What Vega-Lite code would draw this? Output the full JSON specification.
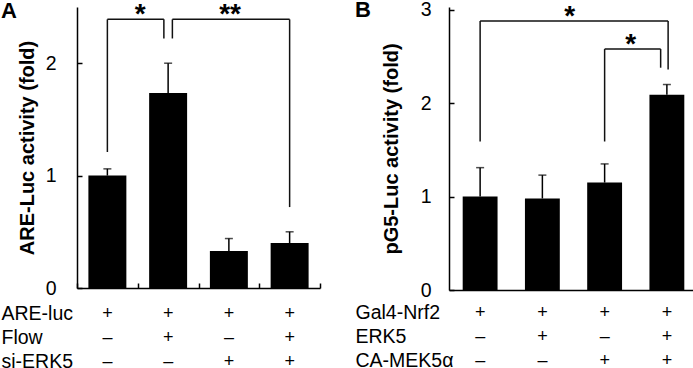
{
  "$schema": "https://vega.github.io/schema/vega-lite/v6.json",
  "padding": {"left": 1, "top": -2, "right": 0, "bottom": 0},
  "background": "white",
  "config": {
    "font": "Liberation Sans",
    "view": {"stroke": null},
    "axis": {"grid": false, "domainColor": "black", "tickColor": "black", "labelColor": "black", "titleColor": "black", "labelFont": "Liberation Sans", "titleFont": "Liberation Sans"}
  },
  "datasets": {
    "barsA": [
      {"cond": "1", "value": 1.0, "hi": 1.06},
      {"cond": "2", "value": 1.735, "hi": 2.0},
      {"cond": "3", "value": 0.33, "hi": 0.44},
      {"cond": "4", "value": 0.4, "hi": 0.5}
    ],
    "bracketsA": [
      {"x1": 0.5, "x2": 1.43, "top": 2.39, "end1": 1.21, "end2": 2.22, "sx": 1.04, "star": "*"},
      {"x1": 1.57, "x2": 3.5, "top": 2.39, "end1": 2.22, "end2": 0.72, "sx": 2.52, "star": "**"}
    ],
    "tableA": [
      {"cond": "1", "row": "ARE-luc", "sign": "+"},
      {"cond": "2", "row": "ARE-luc", "sign": "+"},
      {"cond": "3", "row": "ARE-luc", "sign": "+"},
      {"cond": "4", "row": "ARE-luc", "sign": "+"},
      {"cond": "1", "row": "Flow", "sign": "–"},
      {"cond": "2", "row": "Flow", "sign": "+"},
      {"cond": "3", "row": "Flow", "sign": "–"},
      {"cond": "4", "row": "Flow", "sign": "+"},
      {"cond": "1", "row": "si-ERK5", "sign": "–"},
      {"cond": "2", "row": "si-ERK5", "sign": "–"},
      {"cond": "3", "row": "si-ERK5", "sign": "+"},
      {"cond": "4", "row": "si-ERK5", "sign": "+"}
    ],
    "barsB": [
      {"cond": "1", "value": 1.0, "hi": 1.31},
      {"cond": "2", "value": 0.98, "hi": 1.23},
      {"cond": "3", "value": 1.15, "hi": 1.35},
      {"cond": "4", "value": 2.09, "hi": 2.2}
    ],
    "bracketsB": [
      {"x1": 0.5, "x2": 3.52, "top": 2.88, "end1": 1.59, "end2": 2.36, "sx": 1.94, "star": "*"},
      {"x1": 2.5, "x2": 3.4, "top": 2.58, "end1": 1.59, "end2": 2.38, "sx": 2.92, "star": "*"}
    ],
    "tableB": [
      {"cond": "1", "row": "Gal4-Nrf2", "sign": "+"},
      {"cond": "2", "row": "Gal4-Nrf2", "sign": "+"},
      {"cond": "3", "row": "Gal4-Nrf2", "sign": "+"},
      {"cond": "4", "row": "Gal4-Nrf2", "sign": "+"},
      {"cond": "1", "row": "ERK5", "sign": "–"},
      {"cond": "2", "row": "ERK5", "sign": "+"},
      {"cond": "3", "row": "ERK5", "sign": "–"},
      {"cond": "4", "row": "ERK5", "sign": "+"},
      {"cond": "1", "row": "CA-MEK5α", "sign": "–"},
      {"cond": "2", "row": "CA-MEK5α", "sign": "–"},
      {"cond": "3", "row": "CA-MEK5α", "sign": "+"},
      {"cond": "4", "row": "CA-MEK5α", "sign": "+"}
    ]
  },
  "hconcat": [
    {
      "title": {"text": "A", "anchor": "start", "frame": "bounds", "fontSize": 22, "fontWeight": "bold", "color": "black", "offset": -22},
      "spacing": 4,
      "vconcat": [
        {
          "width": 243,
          "height": 281,
          "layer": [
            {
              "data": {"name": "barsA"},
              "layer": [
                {
                  "mark": {"type": "bar", "color": "black", "width": {"band": 0.625}},
                  "encoding": {
                    "x": {"field": "cond", "type": "nominal", "scale": {"padding": 0},
                      "axis": {"labels": false, "title": null, "tickBand": "extent", "tickSize": -5, "tickWidth": 1.5, "domainWidth": 1.5}},
                    "y": {"field": "value", "type": "quantitative", "scale": {"domain": [0, 2.5], "nice": false},
                      "axis": {"values": [0, 1, 2], "format": "d", "title": "ARE-Luc activity (fold)", "titleFontSize": 20, "titleFontWeight": "bold", "titlePadding": 8, "labelFontSize": 19.5, "labelPadding": 26, "tickSize": -5, "tickWidth": 1.5, "domainWidth": 1.5}}
                  }
                },
                {
                  "mark": {"type": "rule", "color": "black", "strokeWidth": 1.5},
                  "encoding": {
                    "x": {"field": "cond", "type": "nominal"},
                    "y": {"field": "value", "type": "quantitative"},
                    "y2": {"field": "hi"}
                  }
                },
                {
                  "mark": {"type": "tick", "orient": "horizontal", "color": "black", "size": 8, "thickness": 1.5},
                  "encoding": {
                    "x": {"field": "cond", "type": "nominal"},
                    "y": {"field": "hi", "type": "quantitative"}
                  }
                }
              ]
            },
            {
              "data": {"name": "bracketsA"},
              "layer": [
                {
                  "mark": {"type": "rule", "color": "#111", "strokeWidth": 1.5},
                  "encoding": {
                    "x": {"field": "x1", "type": "quantitative", "scale": {"domain": [0, 4], "nice": false, "zero": false}, "axis": null},
                    "x2": {"field": "x2"},
                    "y": {"field": "top", "type": "quantitative"}
                  }
                },
                {
                  "mark": {"type": "rule", "color": "#111", "strokeWidth": 1.5},
                  "encoding": {
                    "x": {"field": "x1", "type": "quantitative"},
                    "y": {"field": "top", "type": "quantitative"},
                    "y2": {"field": "end1"}
                  }
                },
                {
                  "mark": {"type": "rule", "color": "#111", "strokeWidth": 1.5},
                  "encoding": {
                    "x": {"field": "x2", "type": "quantitative"},
                    "y": {"field": "top", "type": "quantitative"},
                    "y2": {"field": "end2"}
                  }
                },
                {
                  "mark": {"type": "text", "fontSize": 28, "fontWeight": "bold", "baseline": "alphabetic", "dy": 4, "color": "black"},
                  "encoding": {
                    "x": {"field": "sx", "type": "quantitative"},
                    "y": {"field": "top", "type": "quantitative"},
                    "text": {"field": "star"}
                  }
                }
              ]
            }
          ],
          "resolve": {"scale": {"x": "independent"}}
        },
        {
          "width": 243,
          "height": 72,
          "data": {"name": "tableA"},
          "mark": {"type": "text", "fontSize": 18, "color": "black"},
          "encoding": {
            "x": {"field": "cond", "type": "nominal", "scale": {"type": "band", "padding": 0}, "axis": null},
            "y": {"field": "row", "type": "nominal", "sort": ["ARE-luc", "Flow", "si-ERK5"], "scale": {"type": "band", "padding": 0},
              "axis": {"title": null, "domain": false, "ticks": false, "labelAlign": "left", "labelPadding": 76, "labelFontSize": 19.5, "labelBaseline": "middle"}},
            "text": {"field": "sign"}
          }
        }
      ]
    },
    {
      "title": {"text": "B", "anchor": "start", "frame": "bounds", "fontSize": 22, "fontWeight": "bold", "color": "black", "offset": -22},
      "spacing": 1,
      "vconcat": [
        {
          "width": 249,
          "height": 283,
          "layer": [
            {
              "data": {"name": "barsB"},
              "layer": [
                {
                  "mark": {"type": "bar", "color": "black", "width": {"band": 0.56}},
                  "encoding": {
                    "x": {"field": "cond", "type": "nominal", "scale": {"padding": 0},
                      "axis": {"labels": false, "title": null, "ticks": false, "domainWidth": 1.5}},
                    "y": {"field": "value", "type": "quantitative", "scale": {"domain": [0, 3.03], "nice": false},
                      "axis": {"values": [0, 1, 2, 3], "format": "d", "title": "pG5-Luc activity (fold)", "titleFontSize": 20, "titleFontWeight": "bold", "titlePadding": 19, "labelFontSize": 19.5, "labelPadding": 23, "tickSize": -5, "tickWidth": 1.5, "domainWidth": 1.5}}
                  }
                },
                {
                  "mark": {"type": "rule", "color": "black", "strokeWidth": 1.5},
                  "encoding": {
                    "x": {"field": "cond", "type": "nominal"},
                    "y": {"field": "value", "type": "quantitative"},
                    "y2": {"field": "hi"}
                  }
                },
                {
                  "mark": {"type": "tick", "orient": "horizontal", "color": "black", "size": 8, "thickness": 1.5},
                  "encoding": {
                    "x": {"field": "cond", "type": "nominal"},
                    "y": {"field": "hi", "type": "quantitative"}
                  }
                }
              ]
            },
            {
              "data": {"name": "bracketsB"},
              "layer": [
                {
                  "mark": {"type": "rule", "color": "#111", "strokeWidth": 1.5},
                  "encoding": {
                    "x": {"field": "x1", "type": "quantitative", "scale": {"domain": [0, 4], "nice": false, "zero": false}, "axis": null},
                    "x2": {"field": "x2"},
                    "y": {"field": "top", "type": "quantitative"}
                  }
                },
                {
                  "mark": {"type": "rule", "color": "#111", "strokeWidth": 1.5},
                  "encoding": {
                    "x": {"field": "x1", "type": "quantitative"},
                    "y": {"field": "top", "type": "quantitative"},
                    "y2": {"field": "end1"}
                  }
                },
                {
                  "mark": {"type": "rule", "color": "#111", "strokeWidth": 1.5},
                  "encoding": {
                    "x": {"field": "x2", "type": "quantitative"},
                    "y": {"field": "top", "type": "quantitative"},
                    "y2": {"field": "end2"}
                  }
                },
                {
                  "mark": {"type": "text", "fontSize": 28, "fontWeight": "bold", "baseline": "alphabetic", "dy": 4, "color": "black"},
                  "encoding": {
                    "x": {"field": "sx", "type": "quantitative"},
                    "y": {"field": "top", "type": "quantitative"},
                    "text": {"field": "star"}
                  }
                }
              ]
            }
          ],
          "resolve": {"scale": {"x": "independent"}}
        },
        {
          "width": 249,
          "height": 72,
          "data": {"name": "tableB"},
          "mark": {"type": "text", "fontSize": 18, "color": "black"},
          "encoding": {
            "x": {"field": "cond", "type": "nominal", "scale": {"type": "band", "padding": 0}, "axis": null},
            "y": {"field": "row", "type": "nominal", "sort": ["Gal4-Nrf2", "ERK5", "CA-MEK5α"], "scale": {"type": "band", "padding": 0},
              "axis": {"title": null, "domain": false, "ticks": false, "labelAlign": "left", "labelPadding": 94, "labelFontSize": 19.5, "labelBaseline": "middle"}},
            "text": {"field": "sign"}
          }
        }
      ]
    }
  ],
  "spacing": 34
}
